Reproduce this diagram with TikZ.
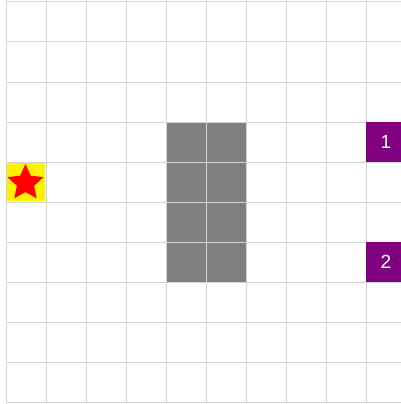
\documentclass[tikz,border=0pt]{standalone}
\usepackage{fontspec}
\setsansfont{Liberation Sans}
\usetikzlibrary{shapes.geometric}
\definecolor{gridgray}{HTML}{D3D3D3}
\definecolor{wallgray}{HTML}{7F7F7F}
\definecolor{goalpurple}{HTML}{800080}
\tikzset{
  gridline/.style={draw=gridgray, line width=1pt},
  wall/.style={fill=wallgray},
  goal/.style={fill=goalpurple, draw=none, minimum size=40pt, inner sep=0pt,
    text=white, font=\sffamily\fontsize{19}{19}\selectfont},
  startcell/.style={fill=yellow, draw=none, minimum size=38pt, inner sep=0pt},
  starshape/.style={star, star points=5, star point ratio=2.1, fill=red, draw=none,
    minimum size=38pt, inner sep=0pt}
}
\begin{document}
\begin{tikzpicture}[x=1pt,y=-1pt]
\useasboundingbox (0,0) rectangle (401,404);
\fill[white] (0,0) rectangle (401,404);
% walls
\fill[wall] (166,122) rectangle (246,282);
% grid
\foreach \i in {0,...,10} {
  \draw[gridline] (6+40*\i,0) -- (6+40*\i,402.5);
  \draw[gridline] (5.5,2+40*\i) -- (401,2+40*\i);
}
% start
\node[startcell] (start) at (25.5,181.5) {};
\node[starshape] (startstar) at (25.5,183) {};
% goals
\node[goal] (goal1) at (386,142) {1};
\node[goal] (goal2) at (386,262) {2};
\end{tikzpicture}
\end{document}
